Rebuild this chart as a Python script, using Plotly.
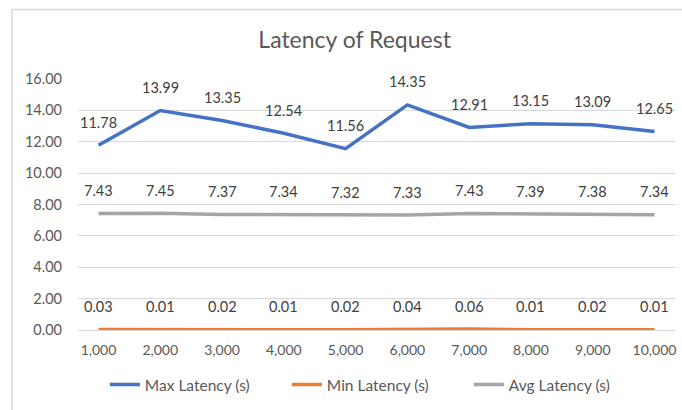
import plotly.graph_objects as go

categories = ["1,000", "2,000", "3,000", "4,000", "5,000", "6,000", "7,000", "8,000", "9,000", "10,000"]
max_latency = [11.78, 13.99, 13.35, 12.54, 11.56, 14.35, 12.91, 13.15, 13.09, 12.65]
min_latency = [0.03, 0.01, 0.02, 0.01, 0.02, 0.04, 0.06, 0.01, 0.02, 0.01]
avg_latency = [7.43, 7.45, 7.37, 7.34, 7.32, 7.33, 7.43, 7.39, 7.38, 7.34]
y_ticks = [0, 2, 4, 6, 8, 10, 12, 14, 16]

series = [
    ("Max Latency (s)", max_latency, "#4472C4"),
    ("Min Latency (s)", min_latency, "#ED7D31"),
    ("Avg Latency (s)", avg_latency, "#A5A5A5"),
]

FONT = "Lato, Open Sans, sans-serif"
TXT = "#595959"

fig = go.Figure()
annotations = []
for name, vals, color in series:
    fig.add_trace(go.Scatter(
        x=categories, y=vals, name=name, mode="lines",
        line=dict(color=color, width=3.5),
        hoverinfo="x+y+name",
    ))
    for c, v in zip(categories, vals):
        annotations.append(dict(
            x=c, y=v, xref="x", yref="y", text=f"{v:.2f}", showarrow=False,
            yshift=23, font=dict(family=FONT, size=14.5, color="#404040"),
        ))

fig.update_layout(
    width=682, height=410,
    margin=dict(l=78, r=7, t=79, b=80, autoexpand=False),
    paper_bgcolor="white", plot_bgcolor="white",
    title=dict(text="Latency of Request", x=0.52, xanchor="center", y=0.902, yanchor="middle",
               font=dict(family=FONT, size=23, color=TXT)),
    font=dict(family=FONT, color=TXT, size=14),
    showlegend=True,
    legend=dict(orientation="h", x=0.045, xanchor="left", y=-0.219, yanchor="middle",
                font=dict(family=FONT, size=15.5, color=TXT), itemwidth=30,
                entrywidth=137, entrywidthmode="pixels"),
    annotations=annotations,
    shapes=[
        dict(type="line", xref="paper", yref="paper", x0=-0.1106, x1=1.05, y0=1.277, y1=1.277,
             line=dict(color="#D9D9D9", width=1.5)),
        dict(type="line", xref="paper", yref="paper", x0=-0.1106, x1=-0.1106, y0=1.277, y1=-0.4,
             line=dict(color="#D9D9D9", width=1.5)),
    ],
)
fig.update_xaxes(type="category", showgrid=False, showline=False, ticks="",
                 tickfont=dict(family=FONT, size=14, color=TXT), ticklabelstandoff=10)
fig.update_yaxes(range=[0, 16], tickvals=y_ticks, tickformat=".2f",
                 showgrid=True, gridcolor="#D9D9D9", gridwidth=1,
                 zeroline=True, zerolinecolor="#D9D9D9", zerolinewidth=1,
                 showline=False, ticks="", ticklabelstandoff=15,
                 tickfont=dict(family=FONT, size=14.5, color=TXT))

fig.write_html("out.html", config={"displayModeBar": False},
               post_script="document.body.style.margin='0';document.body.style.overflow='hidden';")
